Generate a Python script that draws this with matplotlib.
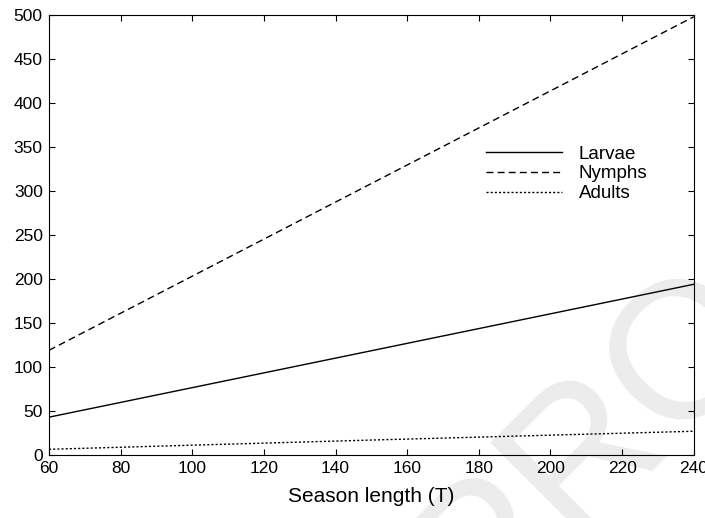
import matplotlib.pyplot as plt

plt.rcParams['font.family'] = ['Liberation Sans', 'DejaVu Sans']

# season length T
season = [60, 150, 240]
larvae = [43, 118.5, 194]
nymphs = [119, 308.5, 498]
adults = [6.5, 17, 27]

fig = plt.figure(figsize=(7.05, 5.18), dpi=100)
ax = fig.add_axes([0.0695, 0.1216, 0.9145, 0.8494])

# watermark
fig.text(0.975, 0.325, 'PROOF', fontsize=140, color='#ececec', rotation=45,
         ha='center', va='center', zorder=-1)
ax.patch.set_alpha(0)

ax.plot(season, larvae, color='black', lw=1.0, ls='-', label='Larvae')
ax.plot(season, nymphs, color='black', lw=1.0, ls=(0, (5, 3)), label='Nymphs')
ax.plot(season, adults, color='black', lw=1.0, ls=(0, (1.5, 1.5)), label='Adults')

ax.set_xlim(60, 240)
ax.set_ylim(0, 500)
ax.set_xticks(range(60, 241, 20))
ax.set_yticks(range(0, 501, 50))
ax.tick_params(direction='in', top=True, right=True, labelsize=12.5, length=4, pad=4.5)
ax.set_xlabel('Season length (T)', fontsize=15, labelpad=8)

leg = ax.legend(loc='upper left', bbox_to_anchor=(0.651, 0.742), frameon=False,
                fontsize=13.5, handlelength=4.1, handletextpad=0.86, labelspacing=0.15)

fig.savefig('out.png', dpi=100)
